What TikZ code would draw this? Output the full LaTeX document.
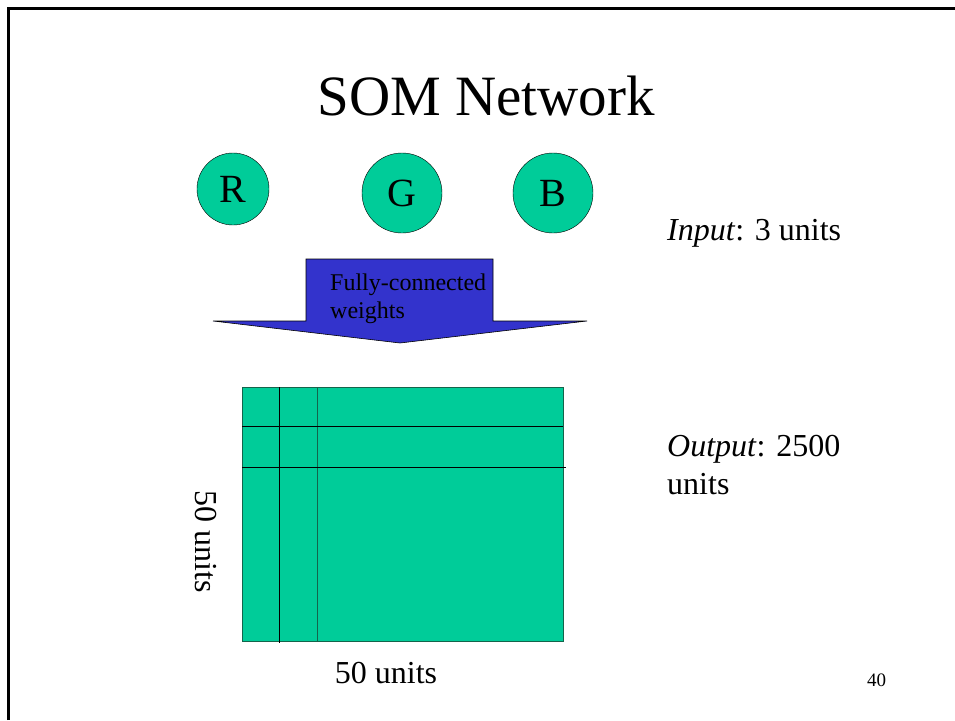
\documentclass[tikz,border=0pt]{standalone}
\usepackage{fontspec}
\setmainfont{Liberation Serif}
\usepackage{tikz}
\definecolor{somgreen}{RGB}{0,204,153}
\definecolor{weightblue}{RGB}{51,51,204}
\definecolor{mapedge}{RGB}{20,100,75}

\begin{document}
\begin{tikzpicture}[x=1pt,y=-1pt,
	unit/.style={circle,draw,fill=somgreen,inner sep=0pt,font=\fontsize{40}{44}\selectfont},
	label/.style={inner sep=0pt,font=\fontsize{32}{38}\selectfont}]

	\useasboundingbox (0,0) rectangle (955,720);
	\draw[line width=2.7] (8.7,720) -- (8.7,8.7) -- (955,8.7);

	\node[inner sep=0pt,anchor=base,font=\fontsize{57}{60}\selectfont] (title) at (486,115) {SOM Network};

	% input units
	\node[unit,minimum size=72] (R) at (233,189) {R};
	\node[unit,minimum size=80] (G) at (402,193) {G};
	\node[unit,minimum size=80] (B) at (553,193) {B};
	\node[label,anchor=base west] (input) at (667,240) {\textit{Input}: 3 units};

	% weights arrow
	\draw[fill=weightblue,line width=0.6] (306,259) -- (493,259) -- (493,321) -- (587,321) -- (400,343) -- (213,321) -- (306,321) -- cycle;
	\node[inner sep=0pt,anchor=north west,align=left,font=\fontsize{24}{28}\selectfont] (weights) at (330,274) {Fully-connected\\weights};

	% output map
	\draw[fill=somgreen,draw=mapedge,line width=1] (242,387) rectangle (563,641);
	\draw[black,line width=0.8] (279,387) -- (279,643);
	\draw[mapedge,line width=1] (317,387) -- (317,641);
	\draw[black,line width=0.8] (242,426) -- (563,426);
	\draw[black,line width=0.8] (242,467) -- (566,467);

	\node[label,rotate=-90] (rows) at (206,542) {50 units};
	\node[label,anchor=base] (cols) at (386,683) {50 units};
	\node[label,anchor=north west,align=left] (output) at (667,435) {\textit{Output}: 2500\\units};

	\node[inner sep=0pt,anchor=base west,font=\fontsize{19}{22}\selectfont] (page) at (867,686) {40};

\end{tikzpicture}
\end{document}
